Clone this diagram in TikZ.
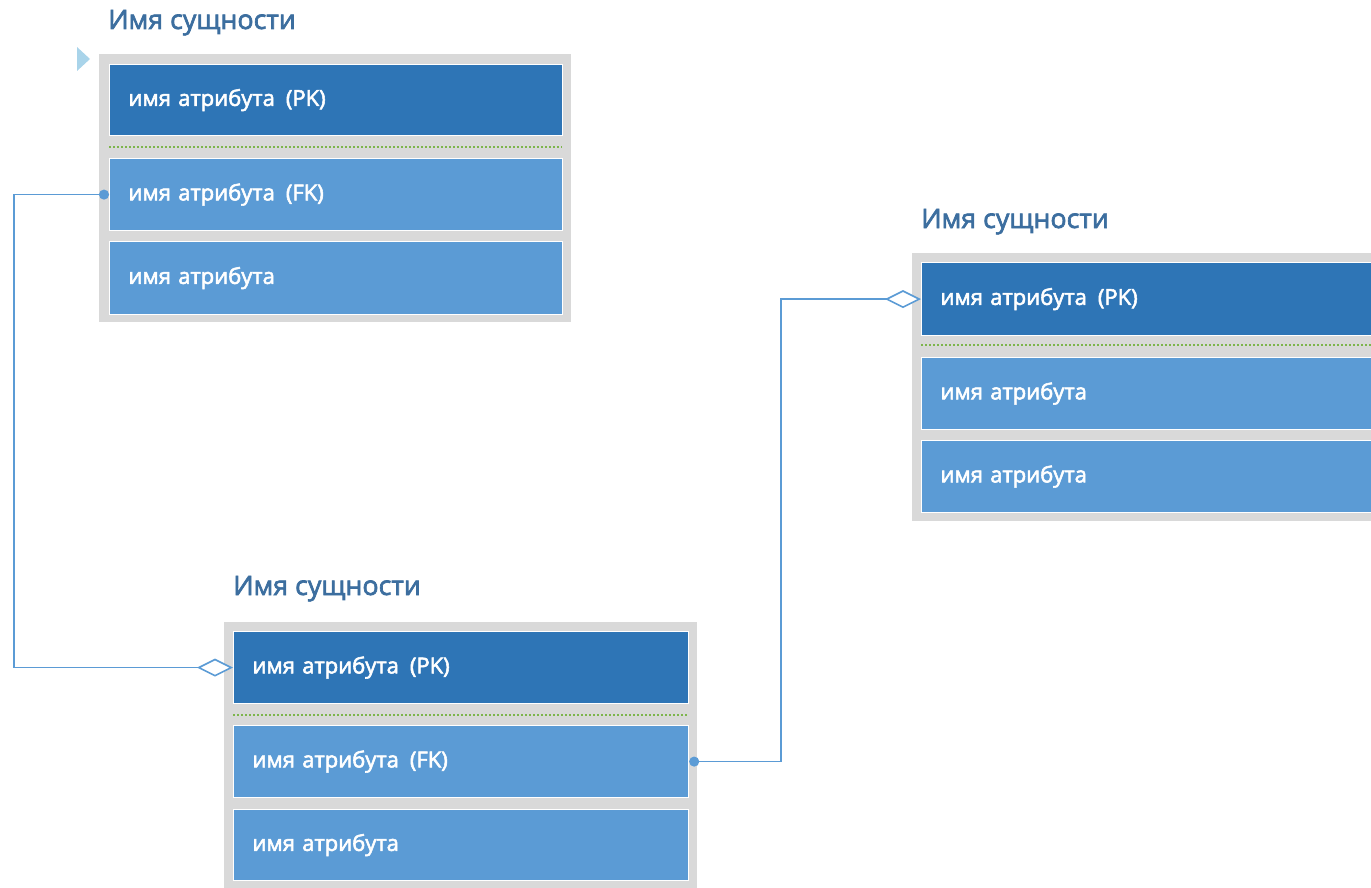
\documentclass[tikz,border=0pt]{standalone}
\usepackage{fontspec}
\setmainfont{Open Sans}
\newfontfamily\semib[FakeBold=2.5]{Open Sans}
\usetikzlibrary{arrows.meta}
\definecolor{pkblue}{HTML}{2E75B6}
\definecolor{atblue}{HTML}{5B9BD5}
\definecolor{framegray}{HTML}{D9D9D9}
\definecolor{titleblue}{HTML}{3C6E9F}
\definecolor{tribl}{HTML}{A9D4EA}
\definecolor{dotgreen}{HTML}{7DB54C}
\definecolor{linkblue}{HTML}{5B9BD5}
\newcommand{\pk}{имя атрибута\hspace{0.5em}(PK)}
\newcommand{\fk}{имя атрибута\hspace{0.5em}(FK)}
\tikzset{
  frame/.style={anchor=north west, fill=framegray, draw=none, inner sep=0pt},
  row/.style={anchor=north west, draw=white, line width=1.2pt, text=white, inner xsep=19pt, inner ysep=0pt,
     text width=415pt, align=left, font=\fontsize{22}{25}\selectfont\semib},
  pkrow/.style={row, fill=pkblue},
  atrow/.style={row, fill=atblue},
  title/.style={anchor=base west, text=titleblue, inner sep=0pt, font=\fontsize{26.8}{30}\selectfont\semib},
  sep/.style={draw=dotgreen, line width=1.4pt, dash pattern=on 2pt off 2pt},
  link/.style={draw=linkblue, line width=1.6pt, {Circle[length=10pt,fill=linkblue]}-{Diamond[open,length=36pt,width=18pt,fill=white]}}
}
\begin{document}
\begin{tikzpicture}[x=1pt,y=-1pt]
\useasboundingbox (0,0) rectangle (1371,888);
\clip (0,0) rectangle (1371,888);
% entity 1
\node[title] (t1) at (108,29) {Имя сущности};
\fill[tribl] (77,47) -- (77,71) -- (90,59) -- cycle;
\node[frame, minimum width=472pt, minimum height=268pt] (f1) at (99,54) {};
\node[pkrow, minimum height=71pt] (e1pk) at (109,64) {\pk};
\draw[sep] (109,147) -- (562,147);
\node[atrow, minimum height=72pt] (e1fk) at (109,158) {\fk};
\node[atrow, minimum height=73pt] (e1at) at (109,241) {имя атрибута};
% entity 2
\node[title] (t2) at (233,595) {Имя сущности};
\node[frame, minimum width=473pt, minimum height=280pt] (f2) at (224,622) {};
\node[pkrow, text width=417pt, minimum height=72pt] (e2pk) at (233,631) {\pk};
\draw[sep] (233,715) -- (688,715);
\node[atrow, text width=417pt, minimum height=72pt] (e2fk) at (233,725) {\fk};
\node[atrow, text width=417pt, minimum height=71pt] (e2at) at (233,809) {имя атрибута};
% entity 3
\node[title] (t3) at (921,228) {Имя сущности};
\node[frame, minimum width=472pt, minimum height=268pt] (f3) at (912,253) {};
\node[pkrow, minimum height=73pt] (e3pk) at (921,262) {\pk};
\draw[sep] (921,345) -- (1374,345);
\node[atrow, minimum height=72pt] (e3a1) at (921,357) {имя атрибута};
\node[atrow, minimum height=72pt] (e3a2) at (921,440) {имя атрибута};
% connectors
\draw[link] (e1fk.west) -- ++(-95,0) coordinate (k1) |- (e2pk.west);
\draw[link] (e2fk.east) -- ++(92,0) coordinate (k2) |- (e3pk.west);
\end{tikzpicture}
\end{document}
